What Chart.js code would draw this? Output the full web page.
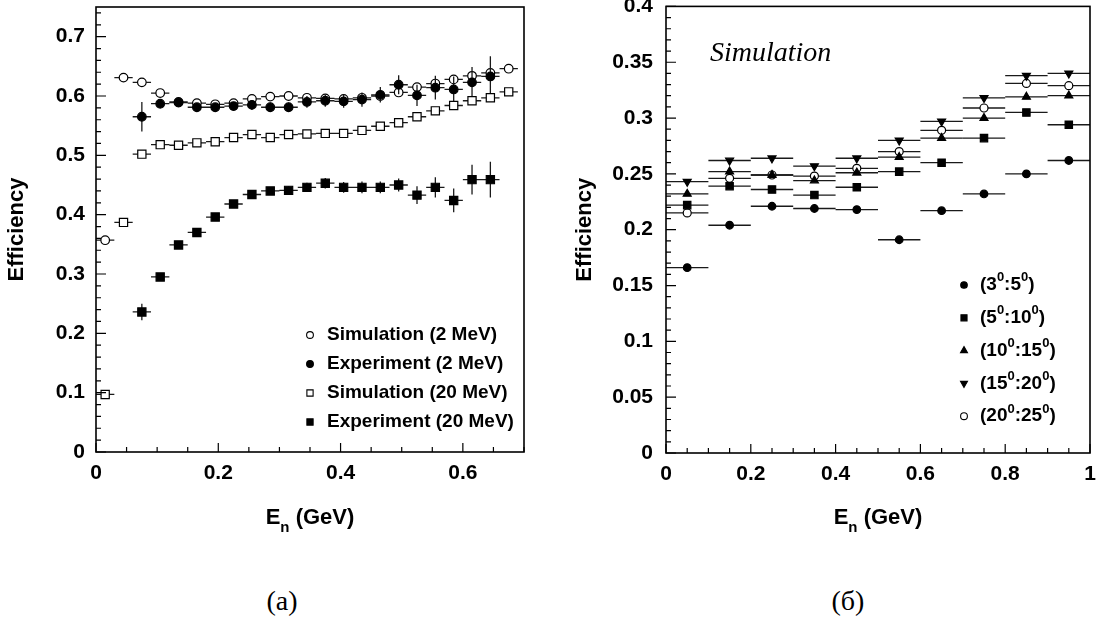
<!DOCTYPE html>
<html>
<head>
<meta charset="utf-8">
<script src="https://cdn.jsdelivr.net/npm/chart.js@4/dist/chart.umd.min.js"></script>
<style>
  body { margin: 0; background: #fff; width: 1101px; height: 625px; position: relative; overflow: hidden; }
  canvas { position: absolute; top: 0; }
  #effLeft { left: 0; }
  #effRight { left: 550px; }
  .cap { position: absolute; top: 585px; width: 100px; text-align: center; font: 28px "Liberation Serif", serif; color: #000; }
</style>
</head>
<body>
<canvas id="effLeft" width="550" height="545"></canvas>
<canvas id="effRight" width="551" height="545"></canvas>
<div class="cap" style="left:232px">(a)</div>
<div class="cap" style="left:798px">(б)</div>
<script>
// ---- (a) efficiency vs neutron energy, 2 MeV and 20 MeV thresholds ----
const binsL = [0.015, 0.045, 0.075, 0.105, 0.135, 0.165, 0.195, 0.225, 0.255, 0.285, 0.315, 0.345,
               0.375, 0.405, 0.435, 0.465, 0.495, 0.525, 0.555, 0.585, 0.615, 0.645, 0.675];
const sim2MeV = [0.357, 0.631, 0.623, 0.605, 0.590, 0.588, 0.586, 0.588, 0.595, 0.599, 0.600, 0.597,
                 0.596, 0.595, 0.597, 0.600, 0.606, 0.615, 0.621, 0.628, 0.634, 0.639, 0.646];
const exp2MeV = [null, null, 0.565, 0.587, 0.589, 0.581, 0.581, 0.583, 0.585, 0.581, 0.581, 0.590,
                 0.592, 0.591, 0.594, 0.602, 0.619, 0.601, 0.614, 0.611, 0.623, 0.633, null];
const exp2MeVErr = [0, 0, 0.025, 0.008, 0.007, 0.007, 0.007, 0.007, 0.008, 0.008, 0.008, 0.010,
                    0.010, 0.011, 0.012, 0.013, 0.016, 0.018, 0.020, 0.022, 0.026, 0.034, 0];
const sim20MeV = [0.097, 0.387, 0.502, 0.518, 0.517, 0.521, 0.523, 0.530, 0.535, 0.530, 0.535, 0.536,
                  0.537, 0.537, 0.542, 0.549, 0.555, 0.565, 0.575, 0.584, 0.592, 0.597, 0.607];
const exp20MeV = [null, null, 0.236, 0.295, 0.349, 0.370, 0.396, 0.418, 0.434, 0.440, 0.441, 0.446,
                  0.453, 0.446, 0.446, 0.446, 0.450, 0.433, 0.446, 0.424, 0.459, 0.459, null];
const exp20MeVErr = [0, 0, 0.014, 0.005, 0.005, 0.005, 0.005, 0.006, 0.006, 0.006, 0.007, 0.008,
                     0.009, 0.009, 0.010, 0.010, 0.011, 0.015, 0.017, 0.020, 0.025, 0.030, 0];
const halfBinL = 0.015;
const xTicksL = [0, 0.2, 0.4, 0.6];
const yTicksL = [0, 0.1, 0.2, 0.3, 0.4, 0.5, 0.6, 0.7];

// ---- (б) simulation, angular ranges ----
const binsR = [0.05, 0.15, 0.25, 0.35, 0.45, 0.55, 0.65, 0.75, 0.85, 0.95];
const ang3to5   = [0.166, 0.204, 0.221, 0.219, 0.218, 0.191, 0.217, 0.232, 0.250, 0.262];
const ang5to10  = [0.222, 0.239, 0.236, 0.231, 0.238, 0.252, 0.260, 0.282, 0.305, 0.294];
const ang10to15 = [0.232, 0.252, 0.249, 0.244, 0.251, 0.265, 0.282, 0.300, 0.319, 0.320];
const ang15to20 = [0.243, 0.262, 0.264, 0.257, 0.264, 0.280, 0.297, 0.318, 0.338, 0.340];
const ang20to25 = [0.215, 0.246, 0.249, 0.248, 0.255, 0.270, 0.289, 0.309, 0.331, 0.329];
const halfBinR = 0.05;
const xTicksR = [0, 0.2, 0.4, 0.6, 0.8, 1];
const yTicksR = [0, 0.05, 0.1, 0.15, 0.2, 0.25, 0.3, 0.35, 0.4];

const TICK_FONT = { family: 'Liberation Sans, Arial, sans-serif', size: 21, weight: 'bold' };
const SANS = '"Liberation Sans", Arial, sans-serif';

function points(xs, ys, xe, ye) {
  return xs.map((x, i) => ({ x, y: ys[i], xe, ye: ye ? ye[i] : 0 })).filter(p => p.y != null);
}

function series(label, data, style, filled, radius, order, rotation) {
  return {
    label, data, order,
    pointStyle: style, pointRadius: radius, pointRotation: rotation || 0,
    pointBackgroundColor: filled ? '#000' : '#fff',
    pointBorderColor: '#000', pointBorderWidth: 1.2,
    showLine: false,
  };
}

// horizontal bin width + vertical errors, drawn just under each dataset's markers
const errorBars = {
  id: 'errorBars',
  beforeDatasetDraw(chart, args) {
    const ds = chart.data.datasets[args.index];
    const xs = chart.scales.x, ys = chart.scales.y, ctx = chart.ctx;
    ctx.save();
    ctx.strokeStyle = '#1a1a1a';
    ctx.lineWidth = 1.3;
    ctx.beginPath();
    ds.data.forEach(p => {
      const px = xs.getPixelForValue(p.x), py = ys.getPixelForValue(p.y);
      ctx.moveTo(xs.getPixelForValue(p.x - p.xe), py);
      ctx.lineTo(xs.getPixelForValue(p.x + p.xe), py);
      if (p.ye) {
        ctx.moveTo(px, ys.getPixelForValue(p.y - p.ye));
        ctx.lineTo(px, ys.getPixelForValue(p.y + p.ye));
      }
    });
    ctx.stroke();
    ctx.restore();
  }
};

// draw text made of [string, isSup, isSub] pieces
function richText(ctx, parts, x, y, size) {
  let cx = x;
  parts.forEach(([s, sup, sub]) => {
    const fs = (sup || sub) ? Math.round(size * 0.68) : size;
    ctx.font = `bold ${fs}px ${SANS}`;
    const dy = sup ? -size * 0.38 : (sub ? size * 0.36 : 0);
    ctx.fillText(s, cx, y + dy);
    cx += ctx.measureText(s).width;
  });
  return cx - x;
}
function richWidth(ctx, parts, size) {
  let w = 0;
  parts.forEach(([s, sup, sub]) => {
    const fs = (sup || sub) ? Math.round(size * 0.68) : size;
    ctx.font = `bold ${fs}px ${SANS}`;
    w += ctx.measureText(s).width;
  });
  return w;
}

function decorations(cfg) {
  return {
    id: 'decorations',
    afterDraw(chart) {
      const { ctx, chartArea: a, scales: { x, y } } = chart;
      ctx.save();
      // frame
      ctx.strokeStyle = '#000';
      ctx.lineWidth = 1.6;
      ctx.strokeRect(a.left, a.top, a.right - a.left, a.bottom - a.top);
      // inward ticks, major + minor
      ctx.lineWidth = 1.2;
      ctx.beginPath();
      const xStep = cfg.xMinor, yStep = cfg.yMinor;
      for (let v = x.min, k = 0; v <= x.max + 1e-9; k++, v = x.min + k * xStep) {
        const major = cfg.xTicks.some(t => Math.abs(t - v) < 1e-9);
        const px = x.getPixelForValue(v);
        ctx.moveTo(px, a.bottom);
        ctx.lineTo(px, a.bottom - (major ? 9 : 5));
      }
      for (let v = y.min, k = 0; v <= y.max + 1e-9; k++, v = y.min + k * yStep) {
        const major = cfg.yTicks.some(t => Math.abs(t - v) < 1e-9);
        const py = y.getPixelForValue(v);
        ctx.moveTo(a.left, py);
        ctx.lineTo(a.left + (major ? 10 : 5), py);
      }
      ctx.stroke();

      // axis titles
      ctx.fillStyle = '#000';
      ctx.textBaseline = 'alphabetic';
      ctx.textAlign = 'left';
      const xt = [['E'], ['n', false, true], [' (GeV)']];
      const w = richWidth(ctx, xt, 22);
      richText(ctx, xt, (a.left + a.right) / 2 - w / 2, cfg.xTitleY, 22);

      ctx.save();
      ctx.translate(cfg.yTitleX, (a.top + a.bottom) / 2);
      ctx.rotate(-Math.PI / 2);
      ctx.font = `bold 22px ${SANS}`;
      ctx.textAlign = 'center';
      ctx.fillText('Efficiency', 0, 0);
      ctx.restore();

      // legend
      const H = Chart.helpers;
      cfg.legend.forEach((row, i) => {
        const ly = cfg.legendY + i * cfg.legendGap;
        const ds = chart.data.datasets[row.ds];
        ctx.fillStyle = ds.pointBackgroundColor;
        ctx.strokeStyle = '#000';
        ctx.lineWidth = 1.1;
        H.drawPoint(ctx, { pointStyle: ds.pointStyle, radius: row.r, rotation: ds.pointRotation, borderWidth: 1.1 },
                    cfg.legendMarkX, ly);
        ctx.fillStyle = '#000';
        ctx.textAlign = 'left';
        ctx.textBaseline = 'middle';
        richText(ctx, row.text, cfg.legendTextX, ly, 19);
      });

      if (cfg.note) {
        ctx.font = `italic 28px "Liberation Serif", serif`;
        ctx.textAlign = 'left';
        ctx.textBaseline = 'alphabetic';
        ctx.fillText(cfg.note.text, cfg.note.x, cfg.note.y);
      }
      ctx.restore();
    }
  };
}

function axis(min, max, ticks, pad, isY, size) {
  return {
    type: 'linear', min, max,
    grid: { display: false, drawTicks: false },
    border: { display: false },
    afterBuildTicks: s => { s.ticks = ticks.map(v => ({ value: v })); },
    afterFit: s => {
      if (isY) s.width = size; else s.height = size;
      s.paddingTop = 0; s.paddingBottom = 0; s.paddingLeft = 0; s.paddingRight = 0;
    },
    ticks: {
      padding: pad, color: '#000', font: TICK_FONT, maxRotation: 0, autoSkip: false,
      callback: v => String(+(+v).toFixed(2)),
    },
  };
}

function makeChart(id, datasets, opts, deco) {
  return new Chart(document.getElementById(id), {
    type: 'scatter',
    data: { datasets },
    options: {
      responsive: false, animation: false, devicePixelRatio: 1,
      layout: { padding: opts.padding },
      plugins: { legend: { display: false }, tooltip: { enabled: false } },
      scales: {
        x: axis(opts.xMin, opts.xMax, opts.xTicks, 9, false, opts.xAxisH),
        y: axis(opts.yMin, opts.yMax, opts.yTicks, opts.yPad, true, opts.yAxisW),
      },
    },
    plugins: [errorBars, decorations(deco)],
  });
}

makeChart('effLeft', [
  series('Simulation (2 MeV)', points(binsL, sim2MeV, halfBinL), 'circle', false, 4.3, 4),
  series('Experiment (2 MeV)', points(binsL, exp2MeV, halfBinL, exp2MeVErr), 'circle', true, 4.3, 3),
  series('Simulation (20 MeV)', points(binsL, sim20MeV, halfBinL), 'rect', false, 5.8, 2),
  series('Experiment (20 MeV)', points(binsL, exp20MeV, halfBinL, exp20MeVErr), 'rect', true, 5.8, 1),
], {
  padding: { left: 0, right: 26, top: 5, bottom: 0 },
  xMin: 0, xMax: 0.7, yMin: 0, yMax: 0.75, xTicks: xTicksL, yTicks: yTicksL,
  xAxisH: 93, yAxisW: 96, yPad: 11,
}, {
  xTicks: xTicksL, yTicks: yTicksL, xMinor: 0.05, yMinor: 0.02,
  xTitleY: 524, yTitleX: 23,
  legendMarkX: 310, legendTextX: 327, legendY: 335, legendGap: 29,
  legend: [
    { ds: 0, r: 3.4, text: [['Simulation (2 MeV)']] },
    { ds: 1, r: 3.4, text: [['Experiment (2 MeV)']] },
    { ds: 2, r: 4.4, text: [['Simulation (20 MeV)']] },
    { ds: 3, r: 4.4, text: [['Experiment (20 MeV)']] },
  ],
});

makeChart('effRight', [
  series('(3:5)', points(binsR, ang3to5, halfBinR), 'circle', true, 3.8, 4),
  series('(5:10)', points(binsR, ang5to10, halfBinR), 'rect', true, 5.2, 3),
  series('(10:15)', points(binsR, ang10to15, halfBinR), 'triangle', true, 4.6, 2),
  series('(15:20)', points(binsR, ang15to20, halfBinR), 'triangle', true, 4.6, 1, 180),
  series('(20:25)', points(binsR, ang20to25, halfBinR), 'circle', false, 4.0, 5),
], {
  padding: { left: 0, right: 11, top: 5, bottom: 0 },
  xMin: 0, xMax: 1, yMin: 0, yMax: 0.4, xTicks: xTicksR, yTicks: yTicksR,
  xAxisH: 92, yAxisW: 116, yPad: 13,
}, {
  xTicks: xTicksR, yTicks: yTicksR, xMinor: 0.05, yMinor: 0.01,
  xTitleY: 524, yTitleX: 41,
  legendMarkX: 414, legendTextX: 430, legendY: 285, legendGap: 32.8,
  legend: [
    { ds: 0, r: 3.3, text: [['(3'], ['0', true], [':5'], ['0', true], [')']] },
    { ds: 1, r: 4.3, text: [['(5'], ['0', true], [':10'], ['0', true], [')']] },
    { ds: 2, r: 4.0, text: [['(10'], ['0', true], [':15'], ['0', true], [')']] },
    { ds: 3, r: 4.0, text: [['(15'], ['0', true], [':20'], ['0', true], [')']] },
    { ds: 4, r: 3.4, text: [['(20'], ['0', true], [':25'], ['0', true], [')']] },
  ],
  note: { text: 'Simulation', x: 160, y: 61 },
});
</script>
</body>
</html>
